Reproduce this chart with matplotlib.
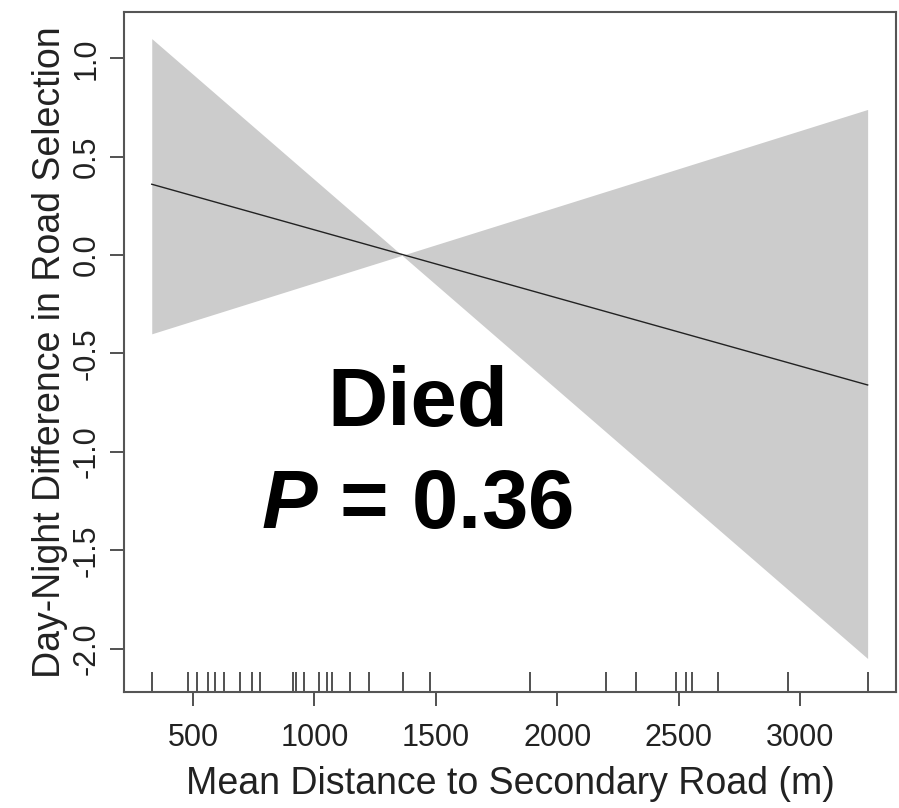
import matplotlib
matplotlib.use('Agg')
import matplotlib.pyplot as plt
import matplotlib.transforms as mtransforms
import numpy as np

plt.rcParams['font.family'] = ['Liberation Sans', 'DejaVu Sans']
plt.rcParams['mathtext.fontset'] = 'custom'
plt.rcParams['mathtext.rm'] = 'Liberation Sans:bold'
plt.rcParams['mathtext.bfit'] = 'Liberation Sans:italic:bold'
plt.rcParams['mathtext.it'] = 'Liberation Sans:italic:bold'

# fitted line and confidence band end points
fit_x = [330, 3278]
fit_y = [0.36, -0.66]
band_a = [1.10, -2.05]
band_b = [-0.40, 0.74]

# rug of observed distances (m)
rug_x = [330, 481, 515, 561, 591, 628, 694, 744, 776, 913, 923, 958,
         1020, 1051, 1071, 1147, 1226, 1364, 1476, 1888, 2201, 2325,
         2489, 2529, 2556, 2663, 2949, 3278]

x_ticks = [500, 1000, 1500, 2000, 2500, 3000]
y_ticks = [-2.0, -1.5, -1.0, -0.5, 0.0, 0.5, 1.0]

fig = plt.figure(figsize=(8.99, 8.08), dpi=100)
ax = fig.add_axes([0.138, 0.1436, 0.8587, 0.8415])

ax.fill_between(fit_x, band_a, band_b, color='#cccccc', linewidth=0)
ax.plot(fit_x, fit_y, color='#222222', linewidth=1.0)

trans = mtransforms.blended_transform_factory(ax.transData, ax.transAxes)
ax.vlines(rug_x, 0, 0.0294, transform=trans, color='#333333', linewidth=1.2)

ax.set_xlim(216, 3395)
ax.set_ylim(-2.22, 1.235)
ax.set_xticks(x_ticks)
ax.set_yticks(y_ticks)
ax.set_yticklabels(['%.1f' % v for v in y_ticks], rotation=90, va='center')
ax.tick_params(axis='both', direction='out', length=10, width=1.2,
               color='#333333', labelsize=22, labelcolor='#222222')
ax.tick_params(axis='x', pad=12)
ax.tick_params(axis='y', pad=6)
for s in ax.spines.values():
    s.set_color('#555555')
    s.set_linewidth(1.5)

ax.set_xlabel('Mean Distance to Secondary Road (m)', fontsize=27, labelpad=10,
              color='#222222')
ax.set_ylabel('Day-Night Difference in Road Selection', fontsize=27, labelpad=3,
              color='#222222')

ax.text(0.380, 0.4235, 'Died', transform=ax.transAxes, fontsize=60,
        fontweight='bold', ha='center', va='center')
ax.text(0.380, 0.2735, r'$\bfit{P}$ = 0.36', transform=ax.transAxes, fontsize=60,
        fontweight='bold', ha='center', va='center')

fig.savefig('out.png', dpi=100)
